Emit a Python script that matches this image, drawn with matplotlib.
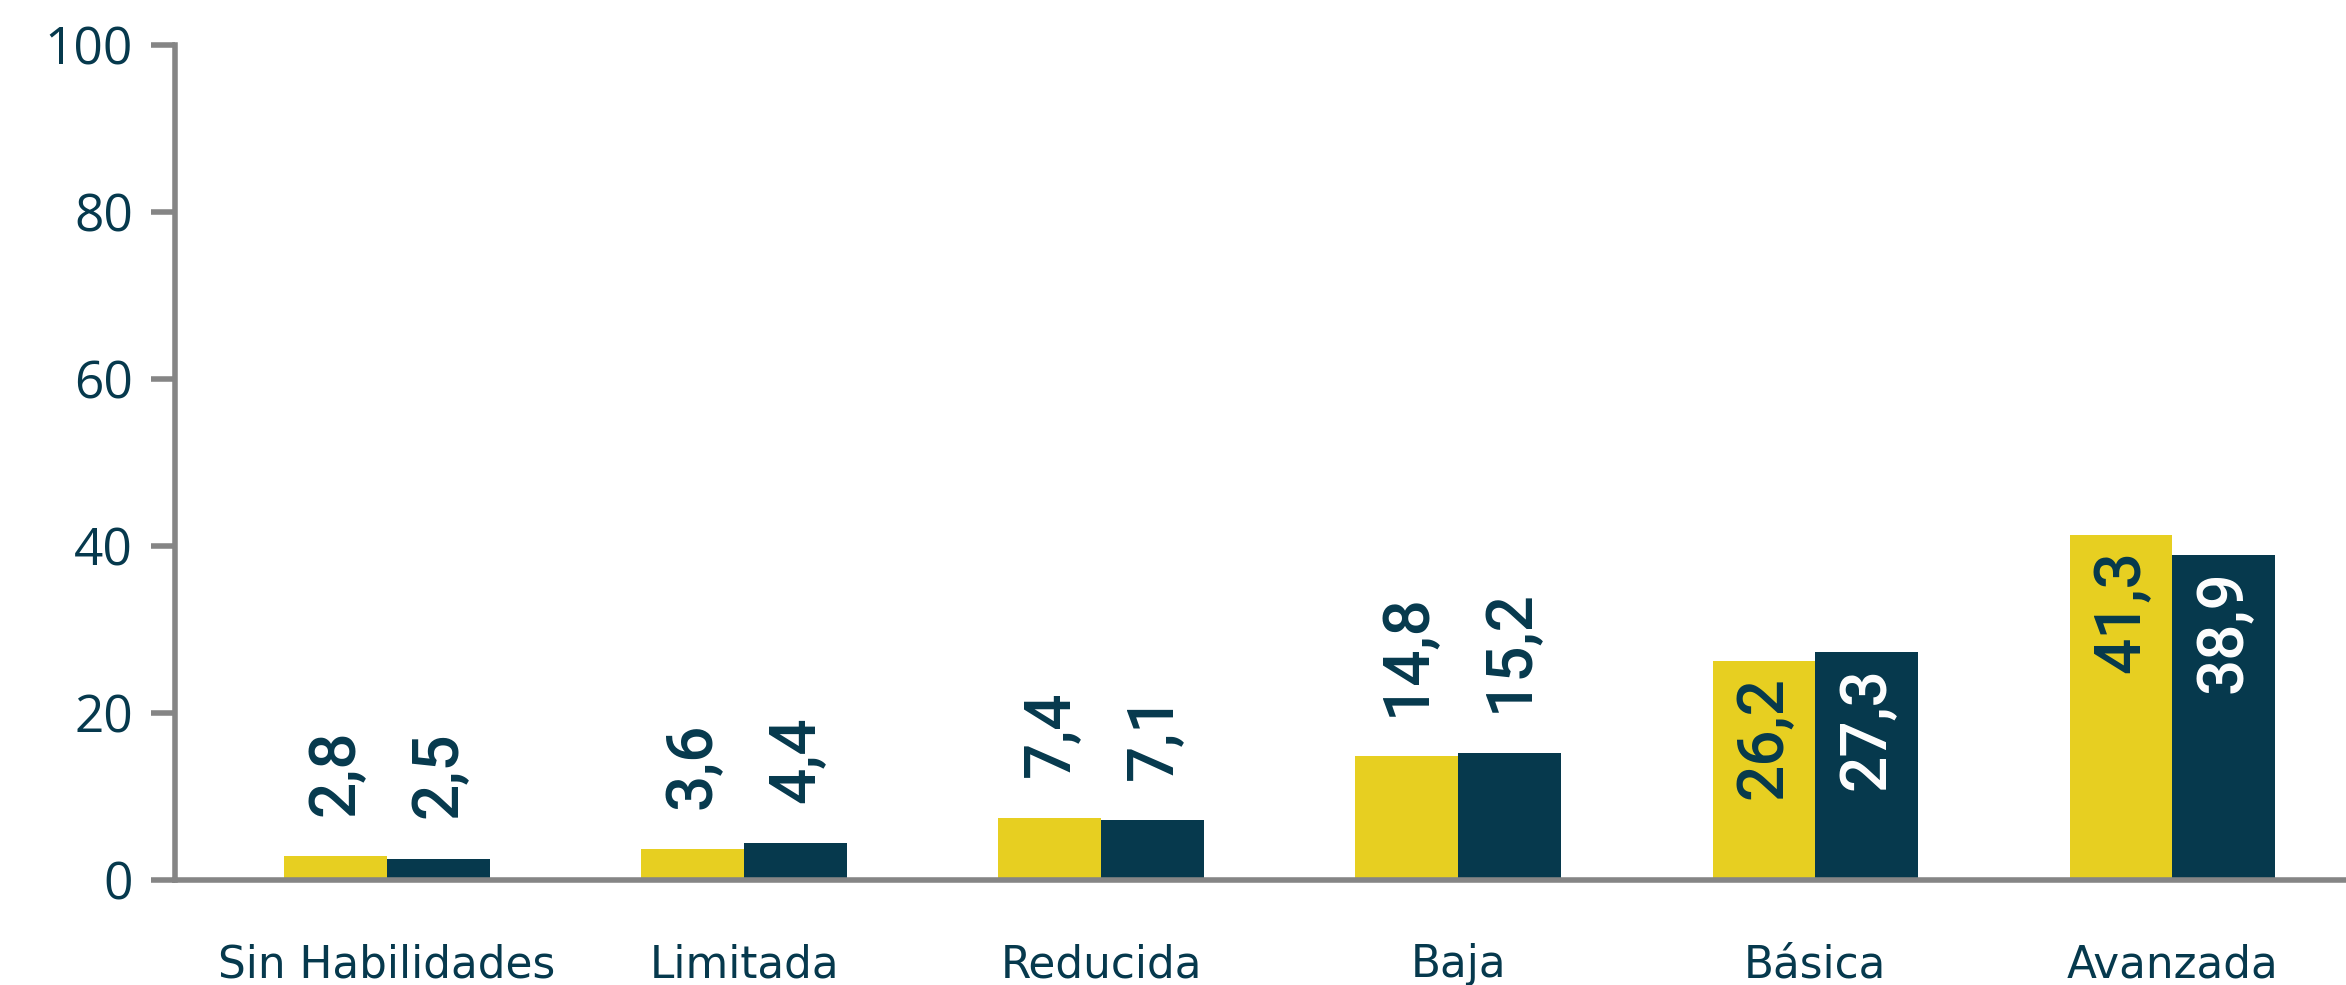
import matplotlib
matplotlib.use('Agg')
import matplotlib.pyplot as plt

categories = ['Sin Habilidades', 'Limitada', 'Reducida', 'Baja', 'Básica', 'Avanzada']
serie_a = [2.8, 3.6, 7.4, 14.8, 26.2, 41.3]
serie_b = [2.5, 4.4, 7.1, 15.2, 27.3, 38.9]
yticks = [0, 20, 40, 60, 80, 100]

yellow = '#E7CF21'
navy = '#06394D'
gray = '#858585'

plt.rcParams['font.family'] = ['Open Sans', 'DejaVu Sans']

fig = plt.figure(figsize=(23.46, 9.85), dpi=100)
ax = fig.add_axes([174.5 / 2346, (985 - 879.5) / 985, 1 - 174.5 / 2346, (879.5 - 45) / 985])

w = 0.288
x = list(range(len(categories)))
ax.bar([i - w / 2 for i in x], serie_a, width=w, color=yellow)
ax.bar([i + w / 2 for i in x], serie_b, width=w, color=navy)

# etiquetas de valor: fuera de la barra para valores chicos, dentro para grandes
for vals, off, inner_color in [(serie_a, -w / 2, navy), (serie_b, w / 2, 'white')]:
    for i, v in enumerate(vals):
        txt = f'{v:.1f}'.replace('.', ',')
        if v > 20:
            ax.annotate(txt, (i + off, v), xytext=(0, -11), textcoords='offset points',
                        rotation=90, ha='center', va='top', fontsize=46,
                        family=['Roboto', 'DejaVu Sans'], fontweight='medium', color=inner_color)
        else:
            ax.annotate(txt, (i + off, v), xytext=(0, 29), textcoords='offset points',
                        rotation=90, ha='center', va='bottom', fontsize=46,
                        family=['Roboto', 'DejaVu Sans'], fontweight='medium', color=navy)

ax.set_xlim(-0.595, 5.486)
ax.set_ylim(0, 100)
ax.set_yticks(yticks)
ax.set_xticks(x)
ax.set_xticklabels(categories, family=['DejaVu Sans'])

for s in ['top', 'right']:
    ax.spines[s].set_visible(False)
for s in ['left', 'bottom']:
    ax.spines[s].set_color(gray)
    ax.spines[s].set_linewidth(4)

ax.tick_params(axis='y', length=17, width=4, color=gray, labelsize=37, labelcolor=navy, pad=13)
ax.tick_params(axis='x', length=0, labelsize=31.5, labelcolor=navy, pad=46)

fig.savefig('out.png', dpi=100)
